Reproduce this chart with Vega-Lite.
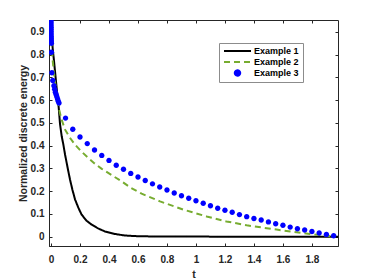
{
  "$schema": "https://vega.github.io/schema/vega-lite/v6.json",
  "width": 289,
  "height": 226,
  "autosize": {"type": "none"},
  "padding": {"left": 49, "top": 20, "right": 36, "bottom": 34},
  "background": "white",
  "config": {
    "font": "Liberation Sans",
    "view": {"stroke": "#262626", "strokeWidth": 1},
    "axis": {
      "grid": false,
      "domainColor": "#262626",
      "tickColor": "#262626",
      "tickSize": -3,
      "labelColor": "#262626",
      "labelFont": "Liberation Sans",
      "labelFontSize": 10,
      "labelFontWeight": "bold",
      "titleColor": "#262626",
      "titleFont": "Liberation Sans",
      "titleFontSize": 10.5,
      "titleFontWeight": "bold"
    }
  },
  "data": {
    "values": [
      {"series": "Example 1", "t": 0, "v": 0.955},
      {"series": "Example 1", "t": 0.004, "v": 0.92},
      {"series": "Example 1", "t": 0.011, "v": 0.83},
      {"series": "Example 1", "t": 0.02, "v": 0.775},
      {"series": "Example 1", "t": 0.03, "v": 0.71},
      {"series": "Example 1", "t": 0.04, "v": 0.645},
      {"series": "Example 1", "t": 0.053, "v": 0.567},
      {"series": "Example 1", "t": 0.062, "v": 0.495},
      {"series": "Example 1", "t": 0.074, "v": 0.44},
      {"series": "Example 1", "t": 0.085, "v": 0.405},
      {"series": "Example 1", "t": 0.097, "v": 0.36},
      {"series": "Example 1", "t": 0.108, "v": 0.324},
      {"series": "Example 1", "t": 0.12, "v": 0.285},
      {"series": "Example 1", "t": 0.131, "v": 0.251},
      {"series": "Example 1", "t": 0.148, "v": 0.205},
      {"series": "Example 1", "t": 0.166, "v": 0.163},
      {"series": "Example 1", "t": 0.19, "v": 0.125},
      {"series": "Example 1", "t": 0.211, "v": 0.097},
      {"series": "Example 1", "t": 0.245, "v": 0.07},
      {"series": "Example 1", "t": 0.28, "v": 0.053},
      {"series": "Example 1", "t": 0.325, "v": 0.036},
      {"series": "Example 1", "t": 0.372, "v": 0.023},
      {"series": "Example 1", "t": 0.44, "v": 0.012},
      {"series": "Example 1", "t": 0.51, "v": 0.005},
      {"series": "Example 1", "t": 0.6, "v": 0.002},
      {"series": "Example 1", "t": 0.7, "v": 0.001},
      {"series": "Example 1", "t": 0.85, "v": 0.0004},
      {"series": "Example 1", "t": 1.2, "v": 0.0001},
      {"series": "Example 1", "t": 1.98, "v": 0},
      {"series": "Example 2", "t": 0, "v": 0.95},
      {"series": "Example 2", "t": 0.004, "v": 0.84},
      {"series": "Example 2", "t": 0.012, "v": 0.77},
      {"series": "Example 2", "t": 0.025, "v": 0.69},
      {"series": "Example 2", "t": 0.04, "v": 0.62},
      {"series": "Example 2", "t": 0.05, "v": 0.575},
      {"series": "Example 2", "t": 0.07, "v": 0.52},
      {"series": "Example 2", "t": 0.097, "v": 0.47},
      {"series": "Example 2", "t": 0.13, "v": 0.435},
      {"series": "Example 2", "t": 0.166, "v": 0.404},
      {"series": "Example 2", "t": 0.21, "v": 0.374},
      {"series": "Example 2", "t": 0.257, "v": 0.346},
      {"series": "Example 2", "t": 0.3, "v": 0.322},
      {"series": "Example 2", "t": 0.35, "v": 0.298},
      {"series": "Example 2", "t": 0.42, "v": 0.27},
      {"series": "Example 2", "t": 0.487, "v": 0.243},
      {"series": "Example 2", "t": 0.55, "v": 0.215},
      {"series": "Example 2", "t": 0.625, "v": 0.189},
      {"series": "Example 2", "t": 0.752, "v": 0.155},
      {"series": "Example 2", "t": 0.912, "v": 0.119},
      {"series": "Example 2", "t": 1.074, "v": 0.089},
      {"series": "Example 2", "t": 1.21, "v": 0.067},
      {"series": "Example 2", "t": 1.35, "v": 0.05},
      {"series": "Example 2", "t": 1.556, "v": 0.031},
      {"series": "Example 2", "t": 1.786, "v": 0.012},
      {"series": "Example 2", "t": 1.96, "v": 0.0},
      {"series": "Example 3", "t": 0, "v": 0.95},
      {"series": "Example 3", "t": 0.0002, "v": 0.94},
      {"series": "Example 3", "t": 0.0004, "v": 0.93},
      {"series": "Example 3", "t": 0.0006, "v": 0.92},
      {"series": "Example 3", "t": 0.0008, "v": 0.91},
      {"series": "Example 3", "t": 0.001, "v": 0.9},
      {"series": "Example 3", "t": 0.0012, "v": 0.89},
      {"series": "Example 3", "t": 0.0015, "v": 0.88},
      {"series": "Example 3", "t": 0.0018, "v": 0.87},
      {"series": "Example 3", "t": 0.002, "v": 0.86},
      {"series": "Example 3", "t": 0.0025, "v": 0.85},
      {"series": "Example 3", "t": 0.003, "v": 0.81},
      {"series": "Example 3", "t": 0.006, "v": 0.72},
      {"series": "Example 3", "t": 0.012, "v": 0.686},
      {"series": "Example 3", "t": 0.02, "v": 0.663},
      {"series": "Example 3", "t": 0.025, "v": 0.648},
      {"series": "Example 3", "t": 0.03, "v": 0.635},
      {"series": "Example 3", "t": 0.035, "v": 0.625},
      {"series": "Example 3", "t": 0.04, "v": 0.615},
      {"series": "Example 3", "t": 0.045, "v": 0.605},
      {"series": "Example 3", "t": 0.05, "v": 0.595},
      {"series": "Example 3", "t": 0.055, "v": 0.587},
      {"series": "Example 3", "t": 0.1, "v": 0.521},
      {"series": "Example 3", "t": 0.15, "v": 0.472},
      {"series": "Example 3", "t": 0.2, "v": 0.438},
      {"series": "Example 3", "t": 0.25, "v": 0.409},
      {"series": "Example 3", "t": 0.3, "v": 0.381},
      {"series": "Example 3", "t": 0.35, "v": 0.357},
      {"series": "Example 3", "t": 0.4, "v": 0.335},
      {"series": "Example 3", "t": 0.45, "v": 0.314},
      {"series": "Example 3", "t": 0.5, "v": 0.296},
      {"series": "Example 3", "t": 0.55, "v": 0.278},
      {"series": "Example 3", "t": 0.6, "v": 0.262},
      {"series": "Example 3", "t": 0.65, "v": 0.247},
      {"series": "Example 3", "t": 0.7, "v": 0.232},
      {"series": "Example 3", "t": 0.75, "v": 0.218},
      {"series": "Example 3", "t": 0.8, "v": 0.205},
      {"series": "Example 3", "t": 0.85, "v": 0.192},
      {"series": "Example 3", "t": 0.9, "v": 0.18},
      {"series": "Example 3", "t": 0.95, "v": 0.169},
      {"series": "Example 3", "t": 1.0, "v": 0.158},
      {"series": "Example 3", "t": 1.05, "v": 0.147},
      {"series": "Example 3", "t": 1.1, "v": 0.136},
      {"series": "Example 3", "t": 1.15, "v": 0.125},
      {"series": "Example 3", "t": 1.2, "v": 0.116},
      {"series": "Example 3", "t": 1.25, "v": 0.107},
      {"series": "Example 3", "t": 1.3, "v": 0.097},
      {"series": "Example 3", "t": 1.35, "v": 0.088},
      {"series": "Example 3", "t": 1.4, "v": 0.08},
      {"series": "Example 3", "t": 1.45, "v": 0.073},
      {"series": "Example 3", "t": 1.5, "v": 0.065},
      {"series": "Example 3", "t": 1.55, "v": 0.057},
      {"series": "Example 3", "t": 1.6, "v": 0.05},
      {"series": "Example 3", "t": 1.65, "v": 0.042},
      {"series": "Example 3", "t": 1.7, "v": 0.035},
      {"series": "Example 3", "t": 1.75, "v": 0.029},
      {"series": "Example 3", "t": 1.8, "v": 0.023},
      {"series": "Example 3", "t": 1.85, "v": 0.016},
      {"series": "Example 3", "t": 1.9, "v": 0.01},
      {"series": "Example 3", "t": 1.95, "v": 0.004}
    ]
  },
  "layer": [
    {
      "transform": [{"filter": "datum.series !== 'Example 3'"}],
      "mark": {"type": "line", "strokeWidth": 2, "clip": true},
      "encoding": {
        "x": {
          "field": "t", "type": "quantitative",
          "scale": {"domain": [-0.014, 1.98], "nice": false, "zero": false},
          "axis": {"orient": "bottom", "values": [0, 0.2, 0.4, 0.6, 0.8, 1, 1.2, 1.4, 1.6, 1.8], "format": "~g", "labelPadding": 11, "title": "t", "titlePadding": 5, "labelFlush": false}
        },
        "y": {
          "field": "v", "type": "quantitative",
          "scale": {"domain": [-0.041, 0.952], "nice": false, "zero": false},
          "axis": {"orient": "left", "values": [0, 0.1, 0.2, 0.3, 0.4, 0.5, 0.6, 0.7, 0.8, 0.9], "format": "~g", "labelPadding": 8, "title": "Normalized discrete energy", "titlePadding": 2, "labelFlush": false}
        },
        "color": {
          "field": "series", "type": "nominal",
          "scale": {"domain": ["Example 1", "Example 2", "Example 3"], "range": ["#000000", "#77AC30", "#0000FF"]},
          "legend": {
            "title": null, "orient": "none", "legendX": 170, "legendY": 23,
            "strokeColor": "#8c8c8c", "fillColor": "white", "padding": 4,
            "labelFont": "Liberation Sans", "labelFontSize": 9, "labelFontWeight": "bold", "labelColor": "#000000",
            "symbolSize": 729, "symbolStrokeWidth": 2, "clipHeight": 8, "rowPadding": 2, "labelOffset": 2
          }
        },
        "strokeDash": {
          "field": "series", "type": "nominal",
          "scale": {"domain": ["Example 1", "Example 2", "Example 3"], "range": [[1, 0], [6, 4], [1, 0]]},
          "legend": {
            "title": null, "orient": "none", "legendX": 170, "legendY": 23
          }
        }
      }
    },
    {
      "transform": [{"filter": "datum.series === 'Example 3'"}],
      "mark": {"type": "point", "filled": true, "size": 729, "opacity": 1, "clip": true},
      "encoding": {
        "x": {"field": "t", "type": "quantitative", "axis": null},
        "y": {"field": "v", "type": "quantitative", "axis": null},
        "color": {"field": "series", "type": "nominal"},
        "shape": {
          "field": "series", "type": "nominal",
          "scale": {"domain": ["Example 1", "Example 2", "Example 3"], "range": ["M-1,0H1", "M-1,0H1", "M-0.2,0A0.2,0.2 0 1,1 0.2,0A0.2,0.2 0 1,1 -0.2,0Z"]},
          "legend": {
            "title": null, "orient": "none", "legendX": 170, "legendY": 23
          }
        }
      }
    },
    {
      "mark": {"type": "point", "opacity": 0},
      "encoding": {
        "x": {"field": "t", "type": "quantitative", "axis": {"orient": "top", "values": [0, 0.2, 0.4, 0.6, 0.8, 1, 1.2, 1.4, 1.6, 1.8], "labels": false, "title": null, "domain": false}},
        "y": {"field": "v", "type": "quantitative", "axis": {"orient": "right", "values": [0, 0.1, 0.2, 0.3, 0.4, 0.5, 0.6, 0.7, 0.8, 0.9], "labels": false, "title": null, "domain": false}}
      }
    }
  ],
  "resolve": {"axis": {"x": "independent", "y": "independent"}}
}
